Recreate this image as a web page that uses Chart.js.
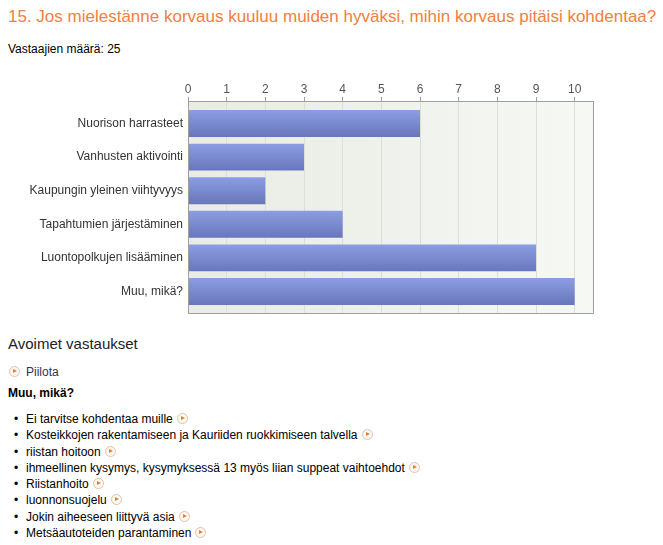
<!DOCTYPE html>
<html>
<head>
<meta charset="utf-8">
<script src="https://cdn.jsdelivr.net/npm/chart.js@4.4.1/dist/chart.umd.min.js"></script>
<style>
    body { margin: 0; background: #fff; font-family: "Liberation Sans", Arial, sans-serif; color: #000; }
    #page { position: relative; width: 663px; height: 545px; overflow: hidden; }
    .abs { position: absolute; white-space: nowrap; }
    #title { left: 8px; top: 7px; font-size: 17px; color: #f0803f; }
    #count { left: 8px; top: 42px; font-size: 12px; }
    #chartBox { position: absolute; left: 0; top: 78px; width: 594px; height: 236px; }
    #open { left: 8px; top: 335px; font-size: 15px; color: #222; }
    #hide { left: 9px; top: 365px; font-size: 12px; color: #334; }
    #muu { left: 8px; top: 386px; font-size: 12px; font-weight: bold; }
    #answers { position: absolute; left: 0; top: 411px; margin: 0; padding: 0 0 0 26px; font-size: 12px; line-height: 16.3px; }
    #answers li { list-style: none; position: relative; }
    #answers li::before { content: "\2022"; position: absolute; left: -12px; }
    .ico { display: inline-block; width: 9px; height: 9px; border: 1px solid #e2c2a6; border-radius: 50%;
           background: #fdf9f5; position: relative; vertical-align: -1px; margin-left: 4px; }
    .ico::after { content: ""; position: absolute; left: 3px; top: 2px; border-left: 4px solid #f07a30;
                  border-top: 2.5px solid transparent; border-bottom: 2.5px solid transparent; }
    #hide .ico { margin: 0 6px 0 0; }
</style>
</head>
<body>
<div id="page">
    <div id="title" class="abs">15. Jos mielestänne korvaus kuuluu muiden hyväksi, mihin korvaus pitäisi kohdentaa?</div>
    <div id="count" class="abs">Vastaajien määrä: 25</div>
    <div id="chartBox"><canvas id="chart"></canvas></div>
    <div id="open" class="abs">Avoimet vastaukset</div>
    <div id="hide" class="abs"><span class="ico"></span>Piilota</div>
    <div id="muu" class="abs">Muu, mikä?</div>
    <ul id="answers"></ul>
</div>
<script>
// ==================== DATOS ====================
const categories = [
    'Nuorison harrasteet',
    'Vanhusten aktivointi',
    'Kaupungin yleinen viihtyvyys',
    'Tapahtumien järjestäminen',
    'Luontopolkujen lisääminen',
    'Muu, mikä?'
];
const counts = [6, 3, 2, 4, 9, 10];
const xTicks = [0, 1, 2, 3, 4, 5, 6, 7, 8, 9, 10];
const openAnswers = [
    'Ei tarvitse kohdentaa muille',
    'Kosteikkojen rakentamiseen ja Kauriiden ruokkimiseen talvella',
    'riistan hoitoon',
    'ihmeellinen kysymys, kysymyksessä 13 myös liian suppeat vaihtoehdot',
    'Riistanhoito',
    'luonnonsuojelu',
    'Jokin aiheeseen liittyvä asia',
    'Metsäautoteiden parantaminen'
];

// Lista de respuestas abiertas
const ul = document.getElementById('answers');
openAnswers.forEach(txt => {
    const li = document.createElement('li');
    li.textContent = txt;
    const ico = document.createElement('span');
    ico.className = 'ico';
    li.appendChild(ico);
    ul.appendChild(li);
});

// Fondo degradado + marco del área
const plotFrame = {
    id: 'plotFrame',
    beforeDraw(chart) {
        const { ctx, chartArea: a } = chart;
        const g = ctx.createLinearGradient(a.left, 0, a.right, 0);
        g.addColorStop(0, '#e8ece4');
        g.addColorStop(1, '#f6f8f4');
        ctx.save();
        ctx.fillStyle = g;
        ctx.fillRect(a.left, a.top, a.right - a.left, a.bottom - a.top);
        ctx.restore();
    },
    afterDraw(chart) {
        const { ctx, chartArea: a } = chart;
        ctx.save();
        ctx.strokeStyle = '#a0a0a0';
        ctx.lineWidth = 1;
        ctx.strokeRect(Math.round(a.left) + 0.5, Math.round(a.top) + 0.5,
            Math.round(a.right - a.left) - 1, Math.round(a.bottom - a.top) - 1);
        ctx.restore();
    }
};

// Degradado vertical de cada barra, según la escala
function barFill(c) {
    const chart = c.chart;
    const ys = chart.scales.y;
    if (!ys || c.dataIndex === undefined) return '#7b8ad0';
    const yc = ys.getPixelForValue(c.dataIndex);
    const half = Math.abs(ys.getPixelForValue(1) - ys.getPixelForValue(0)) * 0.8 / 2;
    if (!isFinite(yc) || !isFinite(half)) return '#7b8ad0';
    const g = chart.ctx.createLinearGradient(0, yc - half, 0, yc + half);
    g.addColorStop(0, '#8d9de3');
    g.addColorStop(1, '#6877ba');
    return g;
}

new Chart(document.getElementById('chart'), {
    type: 'bar',
    data: {
        datasets: [{
            data: counts.map((v, i) => ({ x: v, y: i })),
            backgroundColor: barFill,
            borderWidth: 0,
            barPercentage: 0.8,
            categoryPercentage: 1
        }]
    },
    options: {
        indexAxis: 'y',
        responsive: true,
        maintainAspectRatio: false,
        animation: false,
        layout: { padding: 0 },
        plugins: { legend: { display: false }, tooltip: { enabled: false } },
        scales: {
            x: {
                type: 'linear',
                position: 'top',
                min: 0,
                max: 10.5,
                afterBuildTicks: s => { s.ticks = xTicks.map(v => ({ value: v })); },
                afterFit: s => { s.height = 23; s.paddingLeft = 0; s.paddingRight = 0; },
                ticks: { color: '#555', font: { family: 'Liberation Sans', size: 12 }, padding: 0, maxRotation: 0 },
                grid: { color: '#dcdfd8', lineWidth: 1, tickLength: 4, tickColor: '#a0a0a0' },
                border: { display: false }
            },
            y: {
                type: 'linear',
                reverse: true,
                offset: false,
                min: -0.67,
                max: 5.67,
                afterBuildTicks: s => { s.ticks = categories.map((_, i) => ({ value: i })); },
                afterFit: s => { s.width = 188; s.paddingTop = 0; s.paddingBottom = 0; },
                ticks: {
                    callback: v => categories[v] || '',
                    color: '#333',
                    font: { family: 'Liberation Sans', size: 12 },
                    padding: 5
                },
                grid: { display: false, drawTicks: false },
                border: { display: false }
            }
        }
    },
    plugins: [plotFrame]
});
</script>
</body>
</html>
